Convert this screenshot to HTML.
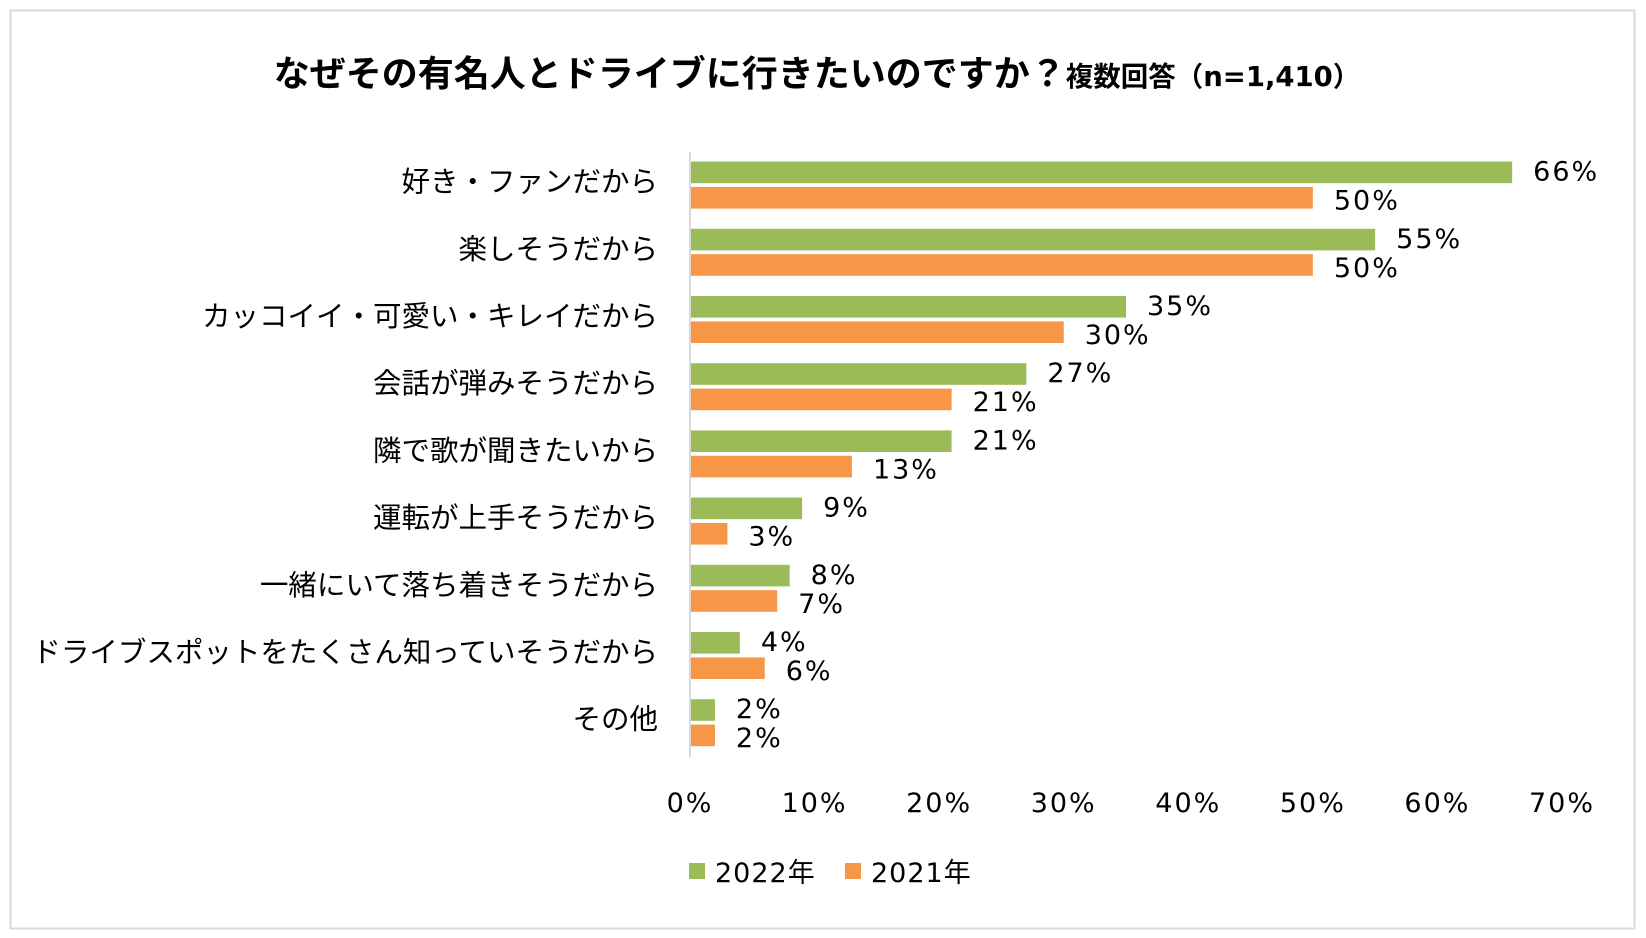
<!DOCTYPE html>
<html><head><meta charset="utf-8"><style>
body{margin:0;background:#fff;}
svg{display:block;font-family:"DejaVu Sans","Noto Sans CJK JP",sans-serif;}
</style></head><body>
<svg id="chart" width="1646" height="938" viewBox="0 0 1646 938">
<rect x="10.5" y="10.5" width="1624" height="918" fill="#fff" stroke="#d9d9d9" stroke-width="2"/>
<text x="817" y="86" text-anchor="middle" font-weight="bold" font-size="36" fill="#000">なぜその有名人とドライブに行きたいのですか？<tspan font-size="27.5">複数回答（n=1,410）</tspan></text>
<g id="plot"></g>
<line x1="690" y1="152" x2="690" y2="757" stroke="#d9d9d9" stroke-width="2"/>
<g>
<rect x="689" y="863" width="16" height="16" fill="#9BBB59"/>
<text x="715" y="882" font-size="27" letter-spacing="1">2022年</text>
<rect x="845" y="863" width="16" height="16" fill="#F79646"/>
<text x="871" y="882" font-size="27" letter-spacing="1">2021年</text>
</g>
</svg>
<script>
const categories=["好き・ファンだから","楽しそうだから","カッコイイ・可愛い・キレイだから","会話が弾みそうだから","隣で歌が聞きたいから","運転が上手そうだから","一緒にいて落ち着きそうだから","ドライブスポットをたくさん知っていそうだから","その他"];
const values2022=[66,55,35,27,21,9,8,4,2];
const values2021=[50,50,30,21,13,3,7,6,2];
const ticks=[0,10,20,30,40,50,60,70];
const NS="http://www.w3.org/2000/svg";
const g=document.getElementById('plot');
const x0=690,x1=1562,xmax=70,top0=152,band=67.2;
function xs(v){return x0+(x1-x0)*v/xmax;}
function mk(t,a){const e=document.createElementNS(NS,t);for(const k in a)e.setAttribute(k,a[k]);g.appendChild(e);return e;}
ticks.forEach(t=>{
 const e=mk('text',{x:xs(t),y:812,'text-anchor':'middle','font-size':27,'letter-spacing':2});
 e.textContent=t+'%';
 
 
});
categories.forEach((c,i)=>{
 const y=top0+band*i+9.6;
 const l=mk('text',{x:658,y:y+30,'text-anchor':'end','font-size':28.5});
 l.textContent=c;
 
 
 const b1=mk('rect',{x:x0,y:y,width:xs(values2022[i])-x0,height:21.6,fill:'#9BBB59'});
 
 
 const b2=mk('rect',{x:x0,y:y+25.4,width:xs(values2021[i])-x0,height:21.6,fill:'#F79646'});
 
 
 const t1=mk('text',{x:xs(values2022[i])+21,y:y+19,'font-size':27,'letter-spacing':2});
 t1.textContent=values2022[i]+'%';
 
 
 const t2=mk('text',{x:xs(values2021[i])+21,y:y+48,'font-size':27,'letter-spacing':2});
 t2.textContent=values2021[i]+'%';
 
 
});
</script>
</body></html>
